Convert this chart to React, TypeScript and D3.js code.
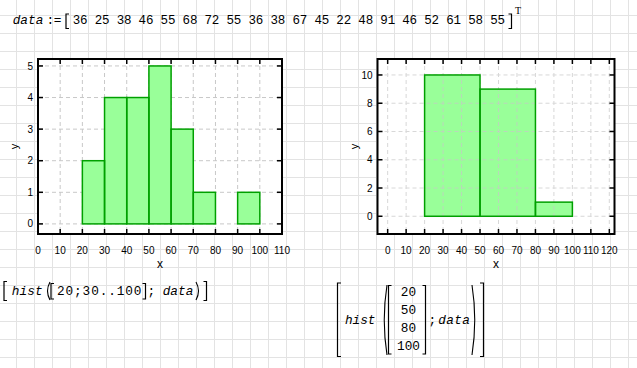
import React from "react";
import * as d3 from "d3";

const data = [36, 25, 38, 46, 55, 68, 72, 55, 36, 38, 67, 45, 22, 48, 91, 46, 52, 61, 58, 55];
const bins1 = [20, 30, 40, 50, 60, 70, 80, 90, 100];
const counts1 = [2, 4, 4, 5, 3, 1, 0, 1];
const bins2 = [20, 50, 80, 100];
const counts2 = [10, 9, 1];
const xTicks1 = [0, 10, 20, 30, 40, 50, 60, 70, 80, 90, 100, 110];
const yTicks1 = [0, 1, 2, 3, 4, 5];
const xTicks2 = [0, 10, 20, 30, 40, 50, 60, 70, 80, 90, 100, 110, 120];
const yTicks2 = [0, 2, 4, 6, 8, 10];
const vectorEdges = ["20", "50", "80", "100"];

const W = 637;
const H = 368;
const MONO = "'Liberation Mono', 'Courier New', monospace";
const SANS = "'Liberation Sans', Arial, sans-serif";

type Box = { l: number; r: number; t: number; b: number };

function Histogram(props: {
  box: Box;
  xDomain: [number, number];
  yDomain: [number, number];
  edges: number[];
  counts: number[];
  xTicks: number[];
  yTicks: number[];
  gridOnTop: boolean;
}) {
  const { box, xDomain, yDomain, edges, counts, xTicks, yTicks, gridOnTop } = props;
  const xs = d3.scaleLinear().domain(xDomain).range([box.l, box.r]);
  const ys = d3.scaleLinear().domain(yDomain).range([box.b, box.t]);
  const tl = 5;
  const grid = (
    <g stroke="#c8c8c8" strokeWidth={1} strokeDasharray="4,3" opacity={gridOnTop ? 0.7 : 1}>
      {xTicks.map((v) => (
        <line key={"gx" + v} x1={xs(v)} x2={xs(v)} y1={box.t} y2={box.b} />
      ))}
      {yTicks.map((v) => (
        <line key={"gy" + v} x1={box.l} x2={box.r} y1={ys(v)} y2={ys(v)} />
      ))}
    </g>
  );
  const barRects = (fill: string, stroke: string) =>
    counts.map((c, i) =>
      c > 0 ? (
        <rect
          key={"b" + i}
          x={xs(edges[i])}
          y={ys(c)}
          width={xs(edges[i + 1]) - xs(edges[i])}
          height={ys(0) - ys(c)}
          fill={fill}
          stroke={stroke}
          strokeWidth={1.5}
        />
      ) : null
    );
  return (
    <g>
      <rect x={box.l} y={box.t} width={box.r - box.l} height={box.b - box.t} fill="#fff" />
      {gridOnTop ? null : grid}
      <g>{barRects("#99ff99", "none")}</g>
      {gridOnTop ? grid : null}
      <g>{barRects("none", "#00a000")}</g>
      <g stroke="#000" strokeWidth={1.5}>
        {xTicks.map((v) => (
          <g key={"tx" + v}>
            <line x1={xs(v)} x2={xs(v)} y1={box.t} y2={box.t + tl} />
            <line x1={xs(v)} x2={xs(v)} y1={box.b} y2={box.b - tl} />
          </g>
        ))}
        {yTicks.map((v) => (
          <g key={"ty" + v}>
            <line x1={box.l} x2={box.l + tl} y1={ys(v)} y2={ys(v)} />
            <line x1={box.r} x2={box.r - tl} y1={ys(v)} y2={ys(v)} />
          </g>
        ))}
      </g>
      <rect
        x={box.l}
        y={box.t}
        width={box.r - box.l}
        height={box.b - box.t}
        fill="none"
        stroke="#000"
        strokeWidth={2}
      />
      <g fontFamily={SANS} fontSize={10} fill="#000">
        {xTicks.map((v) => (
          <text key={"lx" + v} x={xs(v)} y={254} textAnchor="middle">
            {v}
          </text>
        ))}
        {yTicks.map((v) => (
          <text key={"ly" + v} x={box.l - 5} y={ys(v) + 3.6} textAnchor="end">
            {v}
          </text>
        ))}
      </g>
      <text x={(box.l + box.r) / 2} y={268} textAnchor="middle" fontFamily={SANS} fontSize={12}>
        x
      </text>
      <text
        transform={`translate(${box.l - 20},${(box.t + box.b) / 2}) rotate(-90)`}
        textAnchor="middle"
        fontFamily={SANS}
        fontSize={11}
      >
        y
      </text>
    </g>
  );
}

function Bracket(props: { x: number; y1: number; y2: number; dir: 1 | -1; w?: number }) {
  const { x, y1, y2, dir } = props;
  const w = props.w ?? 3;
  const d = `M${x + dir * w},${y1} H${x} V${y2} H${x + dir * w}`;
  return <path d={d} fill="none" stroke="#000" strokeWidth={1.2} />;
}

function Paren(props: { x: number; y1: number; y2: number; dir: 1 | -1; w?: number }) {
  const { x, y1, y2, dir } = props;
  const w = props.w ?? 4;
  const d = `M${x + dir * w},${y1} Q${x - dir * 1},${(y1 + y2) / 2} ${x + dir * w},${y2}`;
  return <path d={d} fill="none" stroke="#000" strokeWidth={1.1} />;
}

function BackGrid() {
  const xs = d3.range(16.5, W, 18);
  const ys = d3.range(15.5, H, 18);
  return (
    <g stroke="#e3e3e3" strokeWidth={1}>
      {xs.map((x) => (
        <line key={"vx" + x} x1={x} x2={x} y1={0} y2={H} />
      ))}
      {ys.map((y) => (
        <line key={"hy" + y} x1={0} x2={W} y1={y} y2={y} />
      ))}
    </g>
  );
}

export default function App() {
  const vecY = d3.scaleLinear().domain([0, vectorEdges.length - 1]).range([296, 350]);
  return (
    <div style={{ position: "absolute", left: 0, top: 0 }}>
      <svg width={W} height={H} style={{ display: "block", background: "#fff" }}>
        <BackGrid />

        {/* header: data := [ ... ]^T */}
        <g fontFamily={MONO} fontSize={12.75} fill="#000">
          <text x={12.7} y={24} fontStyle="italic" textLength={30.6} lengthAdjust="spacing">
            data
          </text>
          <text x={46.5} y={24} textLength={15} lengthAdjust="spacing">
            :=
          </text>
          <text x={72.7} y={24} fontSize={12.5} textLength={432.3} lengthAdjust="spacing">
            {data.join(" ")}
          </text>
        </g>
        <Bracket x={66} y1={14} y2={28.5} dir={1} />
        <Bracket x={511.5} y1={14} y2={28.5} dir={-1} />
        <text x={515} y={13.5} fontFamily="'Liberation Serif', serif" fontSize={10}>
          T
        </text>

        <Histogram
          box={{ l: 38, r: 282, t: 59, b: 234 }}
          xDomain={[0, 110]}
          yDomain={[-0.32, 5.22]}
          edges={bins1}
          counts={counts1}
          xTicks={xTicks1}
          yTicks={yTicks1}
          gridOnTop={false}
        />
        <Histogram
          box={{ l: 377.5, r: 614.5, t: 59, b: 234 }}
          xDomain={[-5.5, 122.8]}
          yDomain={[-1.255, 11.13]}
          edges={bins2}
          counts={counts2}
          xTicks={xTicks2}
          yTicks={yTicks2}
          gridOnTop={true}
        />

        {/* formula 1 */}
        <Bracket x={4} y1={281.5} y2={300.5} dir={1} />
        <g fontFamily={MONO} fontSize={12.75} fill="#000">
          <text x={11.7} y={295} fontStyle="italic" textLength={31} lengthAdjust="spacing">
            hist
          </text>
          <text x={57} y={295} textLength={84.5} lengthAdjust="spacing">
            20;30..100
          </text>
          <text x={147.5} y={295}>;</text>
          <text x={162.7} y={295} fontStyle="italic" textLength={30.6} lengthAdjust="spacing">
            data
          </text>
        </g>
        <Paren x={46} y1={282} y2={300} dir={1} />
        <Bracket x={51} y1={283.5} y2={299} dir={1} />
        <Bracket x={145.5} y1={283.5} y2={299} dir={-1} />
        <Paren x={200} y1={282} y2={300} dir={-1} />
        <Bracket x={206.5} y1={281.5} y2={300.5} dir={-1} />

        {/* formula 2 */}
        <Bracket x={337.5} y1={283} y2={356.5} dir={1} w={3.5} />
        <g fontFamily={MONO} fontSize={12.75} fill="#000">
          <text x={345} y={323.5} fontStyle="italic" textLength={30.5} lengthAdjust="spacing">
            hist
          </text>
          {vectorEdges.map((s, i) => (
            <text key={s} x={408.5} y={vecY(i)} textAnchor="middle">
              {s}
            </text>
          ))}
          <text x={428.5} y={323.5}>;</text>
          <text x={438.3} y={323.5} fontStyle="italic" textLength={31.5} lengthAdjust="spacing">
            data
          </text>
        </g>
        <Paren x={382.5} y1={285} y2={355} dir={1} w={4.5} />
        <Bracket x={388.5} y1={285.5} y2={354} dir={1} />
        <Bracket x={425.5} y1={285.5} y2={354} dir={-1} />
        <Paren x={476.5} y1={285} y2={355} dir={-1} w={4.5} />
        <Bracket x={483.5} y1={283} y2={356.5} dir={-1} w={3.5} />
      </svg>
    </div>
  );
}
